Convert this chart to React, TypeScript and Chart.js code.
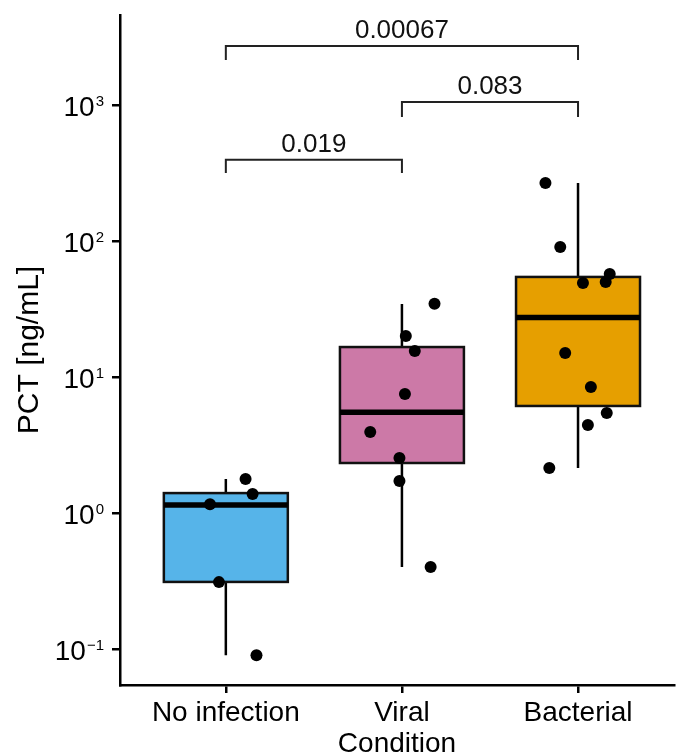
import React, { useEffect, useRef } from 'react';
import { Chart, registerables } from 'chart.js';

Chart.register(...registerables);

// ---- Data ----
const categories = ['No infection', 'Viral', 'Bacterial'];
const boxColors = ['#56B4E9', '#CC79A7', '#E69F00'];

const whiskerLow = [0.09, 0.4, 2.14];
const q1 = [0.311, 2.33, 6.12];
const median = [1.145, 5.5, 27.4];
const q3 = [1.4, 16.6, 54.4];
const whiskerHigh = [1.78, 34.4, 267];

const noInfectionX = [1.112, 1.152, 0.91, 0.961, 1.174];
const noInfectionY = [1.78, 1.38, 1.16, 0.31, 0.09];
const viralX = [2.185, 2.022, 2.073, 2.017, 1.82, 1.986, 1.986, 2.163];
const viralY = [34.6, 20.0, 15.5, 7.5, 3.94, 2.54, 1.72, 0.4];
const bacterialX = [2.815, 2.899, 3.028, 3.157, 3.18, 2.927, 3.073, 3.163, 3.056, 2.837];
const bacterialY = [267, 90.3, 49.1, 49.9, 57.2, 15.0, 8.44, 5.44, 4.44, 2.14];

const yTickValues = [0.1, 1, 10, 100, 1000];
const yTickExponents = ['\u22121', '0', '1', '2', '3'];

const bracketFrom = [1, 2, 1];
const bracketTo = [2, 3, 3];
const bracketY = [395, 1052, 2716];
const bracketTip = [316, 816, 2142];
const bracketLabels = ['0.019', '0.083', '0.00067'];

const FONT = "'Liberation Sans', Arial, Helvetica, sans-serif";
const BOX_HALF = 0.352;

const boxPlugin = {
  id: 'boxes',
  beforeDatasetsDraw(chart: any) {
    const { ctx, scales } = chart;
    const xs = scales.x;
    const ys = scales.y;
    ctx.save();
    for (let i = 0; i < categories.length; i++) {
      const cx = xs.getPixelForValue(i + 1);
      const l = xs.getPixelForValue(i + 1 - BOX_HALF);
      const r = xs.getPixelForValue(i + 1 + BOX_HALF);
      const yq1 = ys.getPixelForValue(q1[i]);
      const yq3 = ys.getPixelForValue(q3[i]);
      const ymed = ys.getPixelForValue(median[i]);
      const ylo = ys.getPixelForValue(whiskerLow[i]);
      const yhi = ys.getPixelForValue(whiskerHigh[i]);
      // whiskers
      ctx.strokeStyle = '#000';
      ctx.lineWidth = 2.5;
      ctx.beginPath();
      ctx.moveTo(cx, yhi);
      ctx.lineTo(cx, yq3);
      ctx.moveTo(cx, yq1);
      ctx.lineTo(cx, ylo);
      ctx.stroke();
      // box
      ctx.fillStyle = boxColors[i];
      ctx.fillRect(l, yq3, r - l, yq1 - yq3);
      ctx.strokeStyle = '#111';
      ctx.lineWidth = 2.5;
      ctx.strokeRect(l, yq3, r - l, yq1 - yq3);
      // median
      ctx.lineWidth = 5.5;
      ctx.strokeStyle = '#000';
      ctx.beginPath();
      ctx.moveTo(l, ymed);
      ctx.lineTo(r, ymed);
      ctx.stroke();
    }
    ctx.restore();
  },
};

const annotationPlugin = {
  id: 'annotations',
  afterDraw(chart: any) {
    const { ctx, scales } = chart;
    const xs = scales.x;
    const ys = scales.y;
    ctx.save();
    // y tick labels with superscripts
    ctx.fillStyle = '#000';
    for (let i = 0; i < yTickValues.length; i++) {
      const py = ys.getPixelForValue(yTickValues[i]);
      ctx.font = `15px ${FONT}`;
      const exp = yTickExponents[i];
      const we = ctx.measureText(exp).width;
      const expRight = 104;
      ctx.textAlign = 'right';
      ctx.textBaseline = 'alphabetic';
      ctx.fillText(exp, expRight, py + 1);
      ctx.font = `28px ${FONT}`;
      ctx.fillText('10', expRight - we - 1, py + 11);
    }
    // significance brackets
    ctx.strokeStyle = '#222';
    ctx.lineWidth = 2;
    ctx.fillStyle = '#111';
    ctx.font = `26px ${FONT}`;
    ctx.textAlign = 'center';
    ctx.textBaseline = 'alphabetic';
    for (let i = 0; i < bracketLabels.length; i++) {
      const x1 = xs.getPixelForValue(bracketFrom[i]);
      const x2 = xs.getPixelForValue(bracketTo[i]);
      const yb = ys.getPixelForValue(bracketY[i]);
      const yt = ys.getPixelForValue(bracketTip[i]);
      ctx.beginPath();
      ctx.moveTo(x1, yt);
      ctx.lineTo(x1, yb);
      ctx.lineTo(x2, yb);
      ctx.lineTo(x2, yt);
      ctx.stroke();
      ctx.fillText(bracketLabels[i], (x1 + x2) / 2, yb - 8);
    }
    ctx.restore();
  },
};

function pts(xv: number[], yv: number[]) {
  return xv.map((x, i) => ({ x, y: yv[i] }));
}

export default function App() {
  const ref = useRef<HTMLCanvasElement>(null);
  useEffect(() => {
    const canvas = ref.current!;
    const pointStyle = {
      pointRadius: 6,
      pointBackgroundColor: '#000',
      pointBorderWidth: 0,
      showLine: false,
    };
    const chart = new Chart(canvas, {
      type: 'scatter',
      data: {
        datasets: [
          { label: categories[0], data: pts(noInfectionX, noInfectionY), ...pointStyle },
          { label: categories[1], data: pts(viralX, viralY), ...pointStyle },
          { label: categories[2], data: pts(bacterialX, bacterialY), ...pointStyle },
        ],
      },
      options: {
        responsive: false,
        animation: false,
        layout: { padding: { top: 15, left: 0, right: 0, bottom: 0 } },
        plugins: { legend: { display: false }, tooltip: { enabled: false } },
        scales: {
          x: {
            type: 'linear',
            min: 0.399,
            max: 3.545,
            afterBuildTicks: (s: any) => {
              s.ticks = [1, 2, 3].map((v) => ({ value: v }));
            },
            afterFit: (s: any) => {
              s.height = 71;
            },
            ticks: {
              callback: (v: any) => categories[Math.round(Number(v)) - 1] ?? '',
              font: { family: FONT, size: 28 },
              color: '#000',
              padding: 3,
              maxRotation: 0,
              autoSkip: false,
            },
            grid: { drawOnChartArea: false, drawTicks: true, tickLength: 8, color: '#000', lineWidth: 2.5 },
            border: { display: true, color: '#000', width: 2.5 },
            title: {
              display: true,
              text: 'Condition',
              font: { family: FONT, size: 28 },
              color: '#000',
              padding: { top: 0, bottom: -5 },
            },
          },
          y: {
            type: 'logarithmic',
            min: 0.0543,
            max: 4590,
            afterBuildTicks: (s: any) => {
              s.ticks = yTickValues.map((v) => ({ value: v }));
            },
            afterFit: (s: any) => {
              s.width = 120;
            },
            ticks: { display: false },
            grid: { drawOnChartArea: false, drawTicks: true, tickLength: 8, color: '#000', lineWidth: 2.5 },
            border: { display: true, color: '#000', width: 2.5 },
            title: {
              display: true,
              text: 'PCT [ng/mL]',
              font: { family: FONT, size: 30 },
              color: '#000',
              padding: { top: 12, bottom: 0 },
            },
          },
        },
      },
      plugins: [boxPlugin, annotationPlugin],
    } as any);
    return () => chart.destroy();
  }, []);
  return (
    <div style={{ position: 'absolute', left: 0, top: 0, width: 680, height: 756, background: '#fff' }}>
      <canvas ref={ref} width={680} height={756} style={{ display: 'block' }} />
    </div>
  );
}
